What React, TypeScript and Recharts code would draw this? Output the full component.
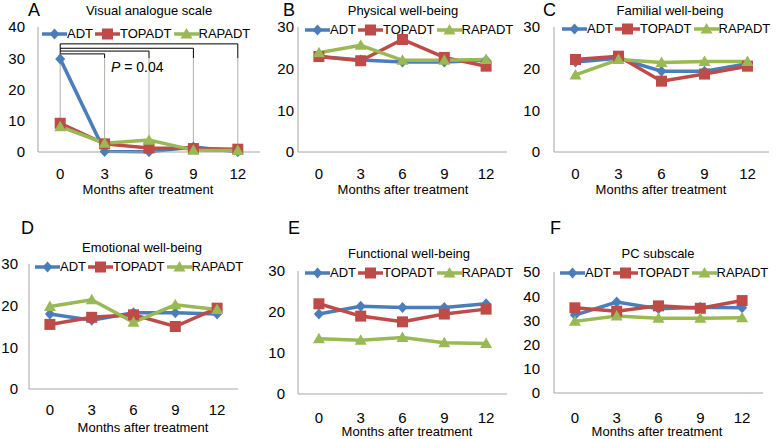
import React from "react";
import { LineChart, Line, XAxis, YAxis, Legend, ReferenceLine } from "recharts";

const MONTHS = ["0", "3", "6", "9", "12"];

// A - Visual analogue scale
const vasAdt = [29.8, 0.2, 0.1, 1.6, 0.1];
const vasTop = [9.2, 2.6, 1.3, 1.1, 0.9];
const vasRap = [8.1, 2.8, 3.8, 0.6, 0.5];
const vasBracketTo = ["3", "6", "9", "12"];
const vasBracketLevel = [31.4, 32.3, 33.2, 34.6];

// B - Physical well-being
const pwbAdt = [22.9, 22.1, 21.6, 21.6, 22.0];
const pwbTop = [22.9, 21.9, 27.0, 22.7, 20.6];
const pwbRap = [23.8, 25.6, 22.0, 22.0, 22.2];

// C - Familial well-being
const fwbAdt = [21.6, 22.5, 19.4, 19.4, 21.2];
const fwbTop = [22.2, 23.0, 17.0, 18.7, 20.6];
const fwbRap = [18.5, 22.2, 21.5, 21.7, 21.7];

// D - Emotional well-being
const ewbAdt = [18.0, 16.5, 18.3, 18.3, 18.0];
const ewbTop = [15.5, 17.2, 17.8, 15.0, 19.4];
const ewbRap = [19.8, 21.4, 16.0, 20.2, 19.1];

// E - Functional well-being
const fnAdt = [19.5, 21.4, 21.1, 21.1, 22.0];
const fnTop = [22.0, 19.0, 17.6, 19.5, 20.7];
const fnRap = [13.5, 13.1, 13.8, 12.5, 12.3];

// F - PC subscale
const pcAdt = [32.2, 37.6, 34.8, 35.4, 35.2];
const pcTop = [35.2, 33.8, 36.0, 35.0, 38.2];
const pcRap = [29.6, 31.8, 30.9, 30.9, 31.1];

const BLUE = "#4A7EBB";
const RED = "#BE4B48";
const GREEN = "#98B954";
const AXIS = "#A6A6A6";
const FONT = '"Liberation Sans", Arial, sans-serif';

const SERIES = [
  { key: "ADT", color: BLUE, shape: "diamond" },
  { key: "TOPADT", color: RED, shape: "square" },
  { key: "RAPADT", color: GREEN, shape: "triangle" },
];

const rows = (a: number[], t: number[], r: number[]) =>
  MONTHS.map((m, i) => ({ month: m, ADT: a[i], TOPADT: t[i], RAPADT: r[i] }));

function Marker({ cx, cy, shape, color }: any) {
  if (cx == null || cy == null) return null;
  if (shape === "diamond")
    return <path d={`M${cx},${cy - 5.5}L${cx + 5},${cy}L${cx},${cy + 5.5}L${cx - 5},${cy}Z`} fill={color} />;
  if (shape === "square")
    return <rect x={cx - 5.5} y={cy - 5.5} width={11} height={11} fill={color} />;
  return <path d={`M${cx},${cy - 6}L${cx + 6},${cy + 4.5}L${cx - 6},${cy + 4.5}Z`} fill={color} />;
}

// legend keeps the series order (recharts sorts payload by name otherwise)
function LegendRow() {
  return (
    <div style={{ display: "flex", alignItems: "center", whiteSpace: "nowrap", fontSize: 13, lineHeight: "14px", color: "#000", fontFamily: FONT }}>
      {SERIES.map((s) => (
        <span key={s.key} style={{ display: "flex", alignItems: "center", marginRight: 2 }}>
          <svg width={25} height={12}>
            <line x1={0} y1={6} x2={25} y2={6} stroke={s.color} strokeWidth={3.5} />
            <Marker cx={12.5} cy={6} shape={s.shape} color={s.color} />
          </svg>
          <span>{s.key}</span>
        </span>
      ))}
    </div>
  );
}

type Geo = {
  left: number; top: number; width: number; height: number;
  mTop: number; mRight: number; yW: number; xH: number;
  yGap: number; xGap: number; legendX: number; legendY: number;
};

function Panel({ data, geo, max, ticks, children }: any) {
  const g: Geo = geo;
  return (
    <div style={{ position: "absolute", left: g.left, top: g.top }}>
      <LineChart width={g.width} height={g.height} data={data}
        margin={{ top: g.mTop, right: g.mRight, left: 0, bottom: 0 }}>
        <XAxis dataKey="month" scale="band" interval={0} tickLine={false} tickSize={0}
          tickMargin={g.xGap} height={g.xH} axisLine={{ stroke: AXIS }}
          tick={{ fill: "#000", fontSize: 15, fontFamily: FONT }} />
        <YAxis domain={[0, max]} ticks={ticks} tickLine={false} tickSize={0}
          tickMargin={g.yGap} width={g.yW} axisLine={{ stroke: AXIS }}
          tick={{ fill: "#000", fontSize: 15, fontFamily: FONT }} />
        <Legend layout="horizontal" verticalAlign="middle" align="center" content={<LegendRow />}
          wrapperStyle={{ left: g.legendX - g.left, top: g.legendY - g.top - 7, width: "auto", height: 14 }} />
        {children}
        {SERIES.map((s) => (
          <Line key={s.key} dataKey={s.key} stroke={s.color} strokeWidth={3.5} isAnimationActive={false}
            dot={(p: any) => <Marker key={`${s.key}-${p.index}`} cx={p.cx} cy={p.cy} shape={s.shape} color={s.color} />}
            activeDot={false} />
        ))}
      </LineChart>
    </div>
  );
}

function Txt({ x, top, size, children, center }: any) {
  return (
    <div style={{
      position: "absolute", top, left: center ? x - 150 : x, width: center ? 300 : undefined,
      textAlign: center ? "center" : "left", fontSize: size, lineHeight: `${size}px`,
      fontFamily: FONT, color: "#000", whiteSpace: "nowrap",
    }}>{children}</div>
  );
}

const GEO_A: Geo = { left: 0, top: 0, width: 262, height: 200, mTop: 27, mRight: 2, yW: 38, xH: 48, yGap: 13, xGap: 16, legendX: 42, legendY: 34 };
const GEO_B: Geo = { left: 262, top: 0, width: 250, height: 200, mTop: 27, mRight: 5, yW: 36, xH: 48, yGap: 4, xGap: 16, legendX: 305, legendY: 30 };
const GEO_C: Geo = { left: 515, top: 0, width: 263, height: 200, mTop: 27, mRight: 9, yW: 39, xH: 48, yGap: 14, xGap: 16, legendX: 562, legendY: 29 };
const GEO_D: Geo = { left: 0, top: 230, width: 262, height: 209, mTop: 34, mRight: 24, yW: 29, xH: 50, yGap: 11, xGap: 15, legendX: 35, legendY: 267 };
const GEO_E: Geo = { left: 262, top: 230, width: 250, height: 209, mTop: 41, mRight: 5, yW: 36, xH: 45, yGap: 13, xGap: 18, legendX: 305, legendY: 273 };
const GEO_F: Geo = { left: 515, top: 230, width: 263, height: 209, mTop: 42, mRight: 15, yW: 39, xH: 46, yGap: 14, xGap: 19, legendX: 560, legendY: 273 };

export default function App() {
  const vasData = rows(vasAdt, vasTop, vasRap);
  const colMax = MONTHS.map((_, i) => Math.max(vasAdt[i], vasTop[i], vasRap[i]));

  const brackets: React.ReactNode[] = [];
  const top = vasBracketLevel[vasBracketLevel.length - 1];
  brackets.push(<ReferenceLine key="v0" segment={[{ x: "0", y: top }, { x: "0", y: vasAdt[0] }]} stroke="#000" strokeWidth={1} />);
  brackets.push(<ReferenceLine key="g0" segment={[{ x: "0", y: vasAdt[0] }, { x: "0", y: vasTop[0] }]} stroke="#B0B0B0" strokeWidth={1} />);
  vasBracketTo.forEach((m, i) => {
    const lvl = vasBracketLevel[i];
    const idx = MONTHS.indexOf(m);
    brackets.push(<ReferenceLine key={`h${m}`} segment={[{ x: "0", y: lvl }, { x: m, y: lvl }]} stroke="#000" strokeWidth={1} />);
    brackets.push(<ReferenceLine key={`v${m}`} segment={[{ x: m, y: lvl }, { x: m, y: 30 }]} stroke="#000" strokeWidth={1} />);
    brackets.push(<ReferenceLine key={`g${m}`} segment={[{ x: m, y: 30 }, { x: m, y: colMax[idx] }]} stroke="#B0B0B0" strokeWidth={1} />);
  });

  return (
    <div style={{ position: "absolute", left: 0, top: 0, width: 778, height: 439, background: "#fff", overflow: "hidden", fontFamily: FONT }}>
      <Panel data={vasData} geo={GEO_A} max={40} ticks={[0, 10, 20, 30, 40]}>{brackets}</Panel>
      <Panel data={rows(pwbAdt, pwbTop, pwbRap)} geo={GEO_B} max={30} ticks={[0, 10, 20, 30]} />
      <Panel data={rows(fwbAdt, fwbTop, fwbRap)} geo={GEO_C} max={30} ticks={[0, 10, 20, 30]} />
      <Panel data={rows(ewbAdt, ewbTop, ewbRap)} geo={GEO_D} max={30} ticks={[0, 10, 20, 30]} />
      <Panel data={rows(fnAdt, fnTop, fnRap)} geo={GEO_E} max={30} ticks={[0, 10, 20, 30]} />
      <Panel data={rows(pcAdt, pcTop, pcRap)} geo={GEO_F} max={50} ticks={[0, 10, 20, 30, 40, 50]} />

      <Txt x={28} top={1} size={18}>A</Txt>
      <Txt x={283} top={1} size={18}>B</Txt>
      <Txt x={543} top={1} size={18}>C</Txt>
      <Txt x={21} top={219} size={18}>D</Txt>
      <Txt x={288} top={219} size={18}>E</Txt>
      <Txt x={550} top={219} size={18}>F</Txt>

      <Txt center x={149} top={4} size={13}>Visual analogue scale</Txt>
      <Txt center x={403} top={4} size={13}>Physical well-being</Txt>
      <Txt center x={670} top={4} size={13}>Familial well-being</Txt>
      <Txt center x={142} top={241} size={13}>Emotional well-being</Txt>
      <Txt center x={409} top={247} size={13}>Functional well-being</Txt>
      <Txt center x={658} top={247} size={13}>PC subscale</Txt>

      <Txt center x={148} top={183} size={13}>Months after treatment</Txt>
      <Txt center x={403} top={183} size={13}>Months after treatment</Txt>
      <Txt center x={661} top={183} size={13}>Months after treatment</Txt>
      <Txt center x={143} top={421} size={13}>Months after treatment</Txt>
      <Txt center x={407} top={425} size={13}>Months after treatment</Txt>
      <Txt center x={657} top={425} size={13}>Months after treatment</Txt>

      <Txt x={111} top={60} size={14}><i>P</i> =  0.04</Txt>
    </div>
  );
}
